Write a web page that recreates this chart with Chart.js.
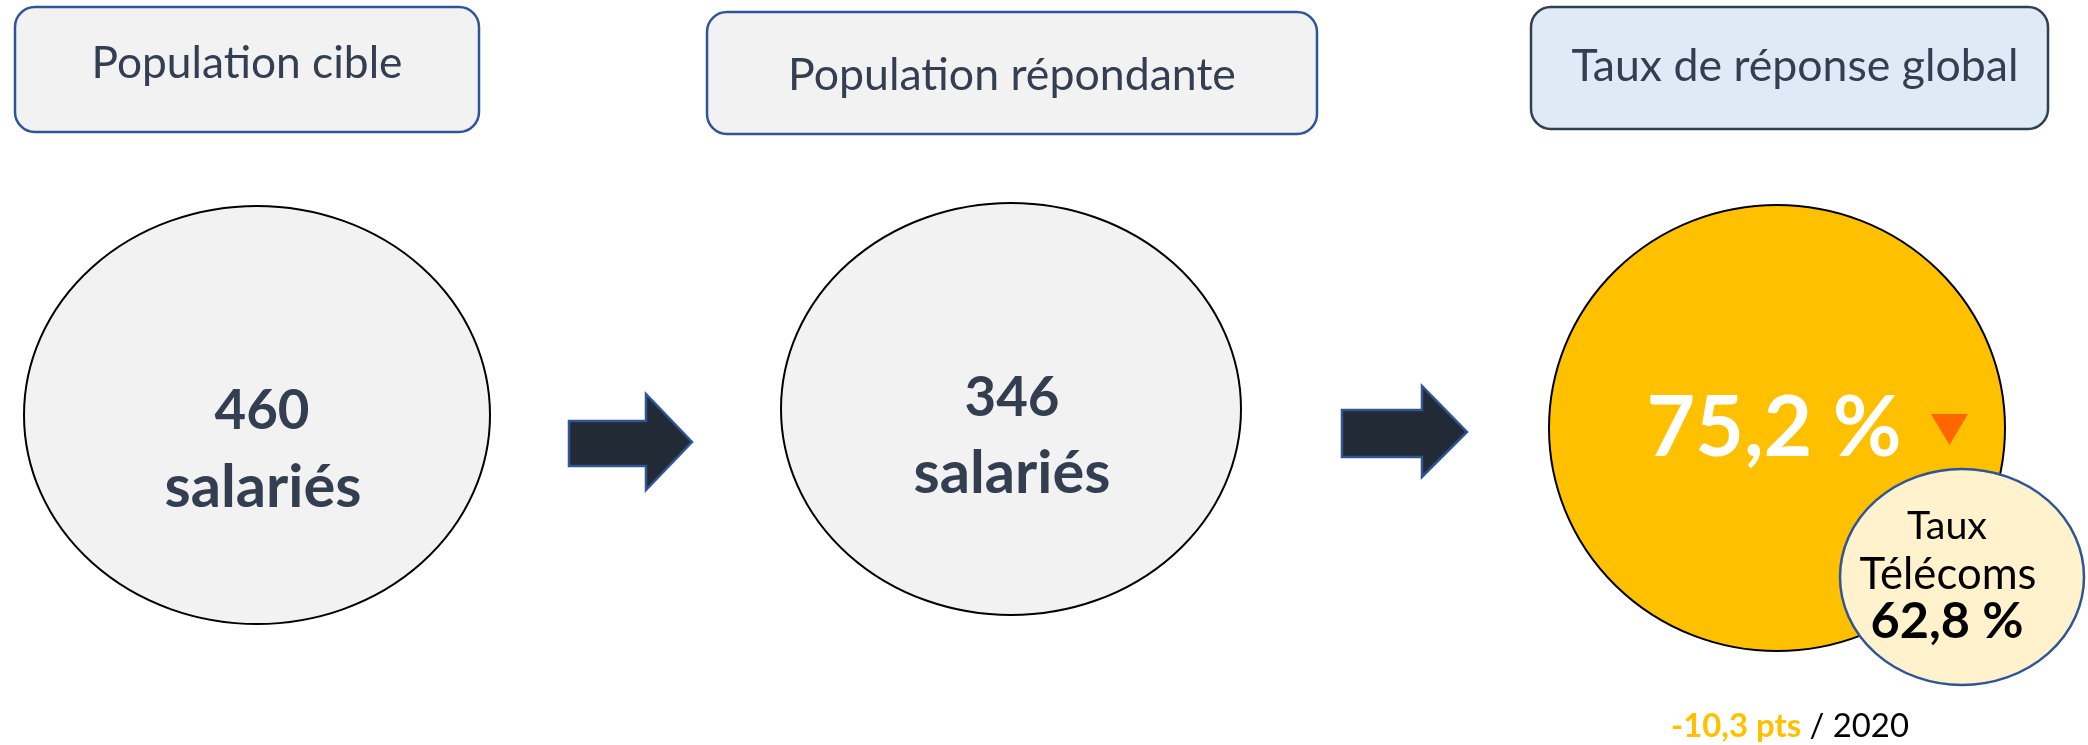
<!DOCTYPE html>
<html>
<head>
<meta charset="utf-8">
<script src="https://cdn.jsdelivr.net/npm/chart.js@4.4.1/dist/chart.umd.min.js"></script>
<style>
  html, body { margin: 0; padding: 0; background: #fff; }
  #wrap { width: 2088px; height: 745px; }
</style>
</head>
<body>
<div id="wrap"><canvas id="infographie" width="2088" height="745"></canvas></div>
<script>
// donnees
let etapes = ['Population cible', 'Population répondante', 'Taux de réponse global']
let effectifs = [460, 346]
let unite = 'salariés'
let tauxGlobal = 75.2
let tauxTelecomsLabel = ['Taux', 'Télécoms']
let tauxTelecoms = 62.8
let evolutionPts = -10.3
let anneeRef = 2020

let fr = v => v.toFixed(1).replace('.', ',')
let FONT = 'Lato, "Open Sans", sans-serif'

// ecrit un texte centre, taille ajustee a la largeur voulue
function fitText(ctx, txt, weight, width, cx, cy, color) {
	ctx.font = `${weight} 100px ${FONT}`
	let size = 100 * width / ctx.measureText(txt).width
	ctx.font = `${weight} ${size}px ${FONT}`
	ctx.fillStyle = color
	ctx.textAlign = 'center'
	ctx.textBaseline = 'middle'
	ctx.fillText(txt, cx, cy)
	return size
}

function roundBox(ctx, x0, y0, x1, y1, r, fill, stroke) {
	ctx.beginPath()
	ctx.roundRect(x0, y0, x1 - x0, y1 - y0, r)
	ctx.fillStyle = fill
	ctx.fill()
	ctx.lineWidth = 2.5
	ctx.strokeStyle = stroke
	ctx.stroke()
}

function ellipse(ctx, cx, cy, rx, ry, fill, stroke, lw) {
	ctx.beginPath()
	ctx.ellipse(cx, cy, rx, ry, 0, 0, Math.PI * 2)
	ctx.fillStyle = fill
	ctx.fill()
	ctx.lineWidth = lw
	ctx.strokeStyle = stroke
	ctx.stroke()
}

function arrow(ctx, pts) {
	ctx.beginPath()
	pts.forEach((p, i) => i ? ctx.lineTo(p[0], p[1]) : ctx.moveTo(p[0], p[1]))
	ctx.closePath()
	ctx.fillStyle = '#222A35'
	ctx.fill()
	ctx.lineWidth = 2.5
	ctx.strokeStyle = '#2F5597'
	ctx.stroke()
}

let dessin = {
	id: 'dessin',
	afterDraw(chart) {
		let ctx = chart.ctx
		let sx = chart.scales.x, sy = chart.scales.y
		let X = v => sx.getPixelForValue(v)
		let Y = v => sy.getPixelForValue(v)
		let dark = '#333F50'
		ctx.save()

		// cartouches du haut
		roundBox(ctx, X(15), Y(7), X(479), Y(132), 20, '#F2F2F2', '#2F5597')
		roundBox(ctx, X(707), Y(12), X(1317), Y(134), 20, '#F2F2F2', '#2F5597')
		roundBox(ctx, X(1531), Y(7), X(2048), Y(129), 20, '#DEEBF7', dark)
		fitText(ctx, etapes[0], 400, 311, X(247), Y(64), dark)
		fitText(ctx, etapes[1], 400, 448, X(1012), Y(76), dark)
		fitText(ctx, etapes[2], 400, 447, X(1795), Y(67), dark)

		// cercles effectifs
		ellipse(ctx, X(257), Y(415), 233, 209, '#F2F2F2', '#000', 2)
		ellipse(ctx, X(1011), Y(409), 230, 206, '#F2F2F2', '#000', 2)
		fitText(ctx, String(effectifs[0]), 700, 95, X(262), Y(411), dark)
		fitText(ctx, unite, 700, 197, X(263), Y(488), dark)
		fitText(ctx, String(effectifs[1]), 700, 95, X(1012), Y(398), dark)
		fitText(ctx, unite, 700, 197, X(1012), Y(474), dark)

		// fleches
		arrow(ctx, [[X(569), Y(421)], [X(646), Y(421)], [X(646), Y(394)], [X(692), Y(442)],
			[X(646), Y(490)], [X(646), Y(466)], [X(569), Y(466)]])
		arrow(ctx, [[X(1342), Y(410)], [X(1422), Y(410)], [X(1422), Y(386)], [X(1467), Y(432)],
			[X(1422), Y(477)], [X(1422), Y(457)], [X(1342), Y(457)]])

		// taux global
		ellipse(ctx, X(1777), Y(428), 228, 223, '#FFC000', '#000', 2)
		fitText(ctx, fr(tauxGlobal) + ' %', 700, 255, X(1774), Y(429), '#FFFFFF')
		ctx.beginPath()
		ctx.moveTo(X(1931), Y(414))
		ctx.lineTo(X(1968), Y(414))
		ctx.lineTo(X(1949.5), Y(445))
		ctx.closePath()
		ctx.fillStyle = '#FF6600'
		ctx.fill()

		// taux telecoms
		ellipse(ctx, X(1962), Y(577), 122, 108, '#FFF2CC', '#2F5597', 2.5)
		fitText(ctx, tauxTelecomsLabel[0], 400, 80, X(1947), Y(526), '#000')
		fitText(ctx, tauxTelecomsLabel[1], 400, 177, X(1948), Y(575), '#000')
		fitText(ctx, fr(tauxTelecoms) + ' %', 700, 153, X(1947), Y(622), '#000')

		// evolution
		let partA = (evolutionPts < 0 ? '-' : '+') + fr(Math.abs(evolutionPts)) + ' pts'
		let partB = ' / ' + anneeRef
		ctx.textBaseline = 'middle'
		ctx.textAlign = 'left'
		ctx.font = `700 100px ${FONT}`
		let wA = ctx.measureText(partA).width
		ctx.font = `400 100px ${FONT}`
		let wB = ctx.measureText(partB).width
		let size = 100 * 238 / (wA + wB)
		wA *= size / 100
		let x0 = X(1790) - 119
		ctx.font = `700 ${size}px ${FONT}`
		ctx.fillStyle = '#FFC000'
		ctx.fillText(partA, x0, Y(726))
		ctx.font = `400 ${size}px ${FONT}`
		ctx.fillStyle = '#000'
		ctx.fillText(partB, x0 + wA, Y(726))

		ctx.restore()
	}
}

new Chart(document.getElementById('infographie'), {
	type: 'scatter',
	data: { datasets: [] },
	options: {
		responsive: false,
		animation: false,
		layout: { padding: 0 },
		plugins: { legend: { display: false }, tooltip: { enabled: false } },
		scales: {
			x: { type: 'linear', min: 0, max: 2088, display: false },
			y: { type: 'linear', min: 0, max: 745, reverse: true, display: false },
		},
	},
	plugins: [dessin],
})
</script>
</body>
</html>
